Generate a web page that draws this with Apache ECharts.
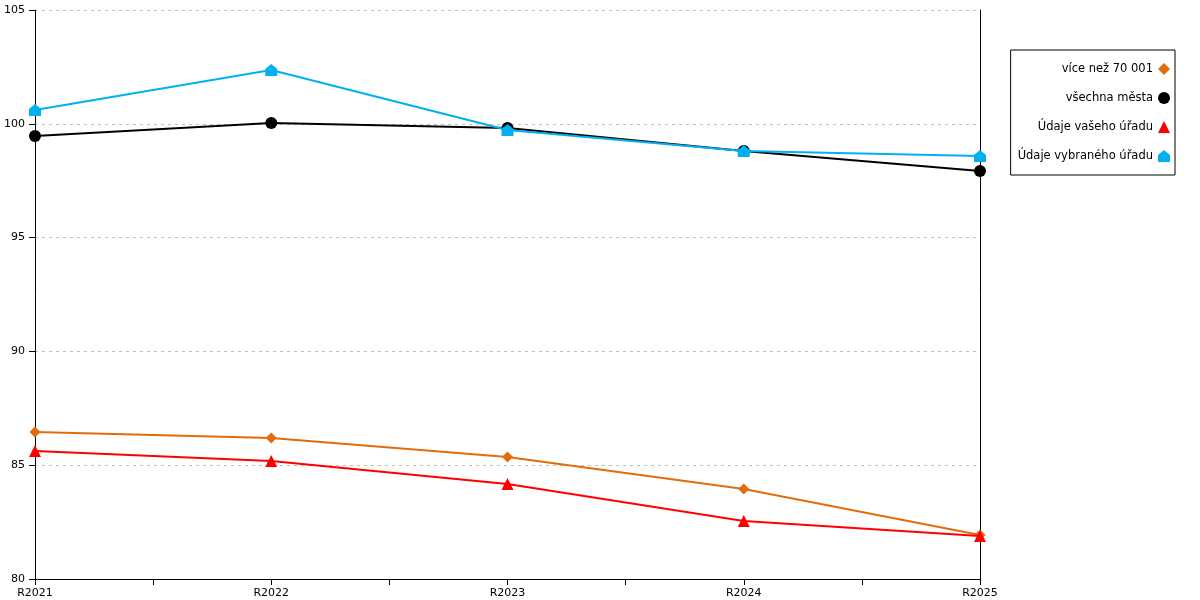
<!DOCTYPE html>
<html><head><meta charset="utf-8">
<script src="https://cdn.jsdelivr.net/npm/echarts@6/dist/echarts.min.js"></script>
<style>html,body{margin:0;padding:0;background:#fff}#c{width:1200px;height:600px}</style>
</head><body><div id="c"></div>
<script>
const categories = ['R2021','R2022','R2023','R2024','R2025'];
const seriesNames = ['více než 70 001','všechna města','Údaje vašeho úřadu','Údaje vybraného úřadu'];
const vals70001 = [86.46, 86.20, 85.36, 83.95, 81.93];
const valsAll = [99.46, 100.04, 99.82, 98.80, 97.93];
const valsYour = [85.62, 85.18, 84.17, 82.55, 81.89];
const valsSelected = [100.61, 102.36, 99.73, 98.80, 98.59];
const yMin = 80, yMax = 105, yStep = 5;

const FONT = 'DejaVu Sans';
const house = 'path://M0,5L6,0L12,5L12,12L0,12Z';
const toPts = arr => arr.map((v,i)=>[i,v]);
const defs = [
  {data: vals70001, color:'#E36C0A', symbol:'diamond', size:11},
  {data: valsAll, color:'#000000', symbol:'circle', size:12},
  {data: valsYour, color:'#FF0000', symbol:'triangle', size:12},
  {data: valsSelected, color:'#00B0F0', symbol:house, size:12}
];
const chart = echarts.init(document.getElementById('c'), null, {renderer:'canvas'});
chart.setOption({
  animation:false,
  textStyle:{fontFamily:FONT},
  grid:{left:35,right:220,top:10,bottom:21,containLabel:false},
  legend:{
    orient:'vertical', right:25, top:50, align:'right',
    borderColor:'#000', borderWidth:1, padding:[13,5,13,7],
    itemGap:17, itemWidth:12, itemHeight:12,
    textStyle:{fontFamily:FONT,fontSize:11.5,color:'#000'},
    data: seriesNames.map((n,i)=>({name:n, icon: defs[i].symbol}))
  },
  xAxis:{
    type:'value', min:0, max:categories.length-1, interval:0.5,
    axisLine:{show:true,lineStyle:{color:'#000',width:1}},
    axisTick:{show:true,length:6,lineStyle:{color:'#000'}},
    axisLabel:{color:'#000',fontFamily:FONT,fontSize:11,margin:9,
      formatter:v=> Number.isInteger(v) ? categories[v] : ''},
    splitLine:{show:false}
  },
  yAxis:[{
    type:'value', min:yMin, max:yMax, interval:yStep,
    axisLine:{show:true,lineStyle:{color:'#000',width:1}},
    axisTick:{show:true,length:6,lineStyle:{color:'#000'}},
    axisLabel:{color:'#000',fontFamily:FONT,fontSize:11,margin:10},
    splitLine:{show:true,lineStyle:{color:'#bfbfbf',type:[3,4],width:1}}
  },{
    type:'value', min:yMin, max:yMax, interval:yStep, position:'right',
    axisLine:{show:true,lineStyle:{color:'#000',width:1}},
    axisTick:{show:false}, axisLabel:{show:false}, splitLine:{show:false}
  }],
  series: defs.map((d,i)=>({
    name:seriesNames[i], type:'line', data:toPts(d.data),
    symbol:d.symbol, symbolSize:d.size, showSymbol:true,
    lineStyle:{color:d.color,width:2}, itemStyle:{color:d.color},
    z:2+i
  }))
});
</script></body></html>
